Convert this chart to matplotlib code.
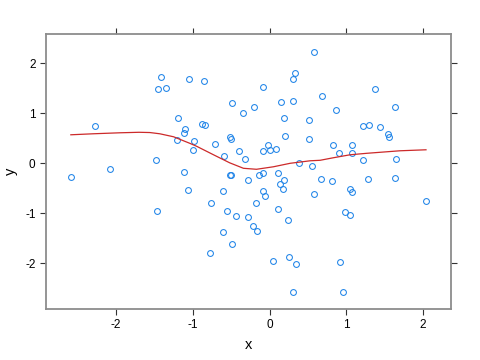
import matplotlib
matplotlib.use("Agg")
import matplotlib.pyplot as plt
import numpy as np

plt.rcParams['font.family'] = ['Liberation Sans', 'DejaVu Sans']
plt.rcParams['axes.unicode_minus'] = False

# scatter points
x = [-2.59, -2.27, -2.08, -1.48, -1.47, -1.45, -1.41, -1.35, -1.20, -1.19,
     -1.11, -1.10, -1.11, -1.06, -1.05, -1.00, -0.98, -0.88, -0.84, -0.86,
     -0.78, -0.76, -0.71, -0.60, -0.60, -0.59, -0.56, -0.52, -0.50, -0.50,
     -0.52, -0.49, -0.49, -0.44, -0.40, -0.34, -0.32, -0.28, -0.28, -0.22,
     -0.20, -0.17, -0.16, -0.14, -0.09, -0.08, -0.08, -0.08, -0.06, -0.02,
     0.00, 0.04, 0.08, 0.11, 0.11, 0.14, 0.15, 0.17, 0.19, 0.19,
     0.20, 0.24, 0.25, 0.30, 0.31, 0.31, 0.33, 0.35, 0.38, 0.51,
     0.51, 0.56, 0.58, 0.58, 0.67, 0.68, 0.82, 0.83, 0.87, 0.90,
     0.92, 0.96, 0.99, 1.05, 1.05, 1.07, 1.08, 1.08, 1.22, 1.22,
     1.28, 1.30, 1.38, 1.44, 1.55, 1.56, 1.63, 1.64, 1.65, 2.04]
y = [-0.27, 0.75, -0.11, 0.07, -0.95, 1.48, 1.73, 1.51, 0.46, 0.91,
     0.61, 0.69, -0.17, -0.53, 1.69, 0.27, 0.45, 0.79, 0.77, 1.65,
     -1.79, -0.79, 0.38, -1.38, -0.55, 0.15, -0.95, 0.53, 0.49, -0.23,
     -0.24, -1.62, 1.21, -1.05, 0.24, 1.01, 0.09, -0.33, -1.07, -1.25,
     1.12, -0.79, -1.35, -0.23, -0.19, 0.25, 1.53, -0.55, -0.65, 0.37,
     0.27, -1.95, 0.29, -0.19, -0.91, -0.41, 1.23, -0.52, 0.91, -0.33,
     0.55, -1.13, -1.87, -2.57, 1.69, 1.25, 1.81, -2.02, 0.01, 0.87,
     0.49, -0.06, -0.62, 2.23, -0.32, 1.34, -0.35, 0.37, 1.06, 0.20,
     -1.97, -2.57, -0.97, -1.03, -0.51, -0.57, 0.37, 0.20, 0.75, 0.07,
     -0.31, 0.77, 1.49, 0.73, 0.58, 0.53, 1.12, -0.30, 0.09, -0.75]

# smooth curve
smooth_x = [-2.59, -2.30, -1.95, -1.70, -1.56, -1.43, -1.25, -1.17, -1.04, -0.95,
            -0.73, -0.52, -0.34, -0.17, 0.05, 0.27, 0.53, 0.66, 0.83, 1.05,
            1.27, 1.70, 2.04]
smooth_y = [0.57, 0.59, 0.61, 0.62, 0.615, 0.59, 0.53, 0.48, 0.40, 0.34,
            0.17, 0.01, -0.10, -0.12, -0.07, 0.00, 0.05, 0.06, 0.11, 0.17,
            0.20, 0.25, 0.27]

fig = plt.figure(figsize=(4.8, 3.6), dpi=100)
ax = fig.add_axes([0.0958, 0.1417, 0.8438, 0.7639])

ax.plot(x, y, 'o', ms=4.2, mfc='none', mec='#1f84e8', mew=0.75)
ax.plot(smooth_x, smooth_y, color='#cc2a2a', lw=0.9)

ax.set_xlim(-2.914, 2.366)
ax.set_ylim(-2.914, 2.586)
ax.set_xticks([-2, -1, 0, 1, 2])
ax.set_yticks([-2, -1, 0, 1, 2])

for s in ax.spines.values():
    s.set_color('#8c8c8c')
    s.set_linewidth(1.3)

ax.tick_params(direction='out', length=4, width=0.8, color='#333333',
               labelsize=8.5, pad=3.5, top=True, right=True,
               labeltop=False, labelright=False)
ax.set_xlabel('x', fontsize=10.5, labelpad=5)
ax.set_ylabel('y', fontsize=10.5, labelpad=5)

fig.savefig('out.png', dpi=100)
